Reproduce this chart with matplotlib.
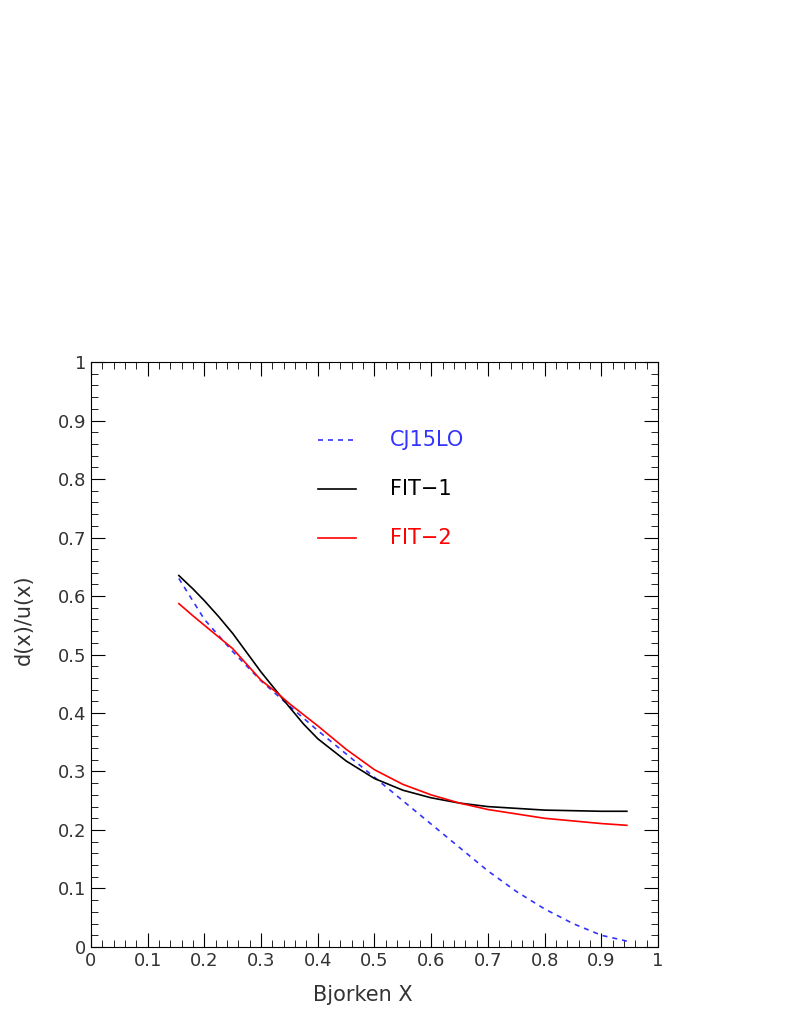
import matplotlib.pyplot as plt
from matplotlib.ticker import MultipleLocator

# --- data ---
x_cj = [0.155, 0.2, 0.25, 0.3, 0.35, 0.4, 0.45, 0.5, 0.55, 0.6, 0.65, 0.7, 0.75, 0.8, 0.85, 0.9, 0.945]
y_cj = [0.630, 0.560, 0.505, 0.455, 0.412, 0.370, 0.330, 0.290, 0.250, 0.210, 0.170, 0.130, 0.095, 0.065, 0.040, 0.020, 0.010]

x_fit = [0.155, 0.18, 0.2, 0.225, 0.25, 0.275, 0.3, 0.325, 0.35, 0.375, 0.4, 0.45, 0.5, 0.55, 0.6, 0.65, 0.7, 0.8, 0.9, 0.945]
y_fit1 = [0.635, 0.612, 0.592, 0.565, 0.536, 0.503, 0.470, 0.440, 0.410, 0.381, 0.356, 0.318, 0.288, 0.268, 0.255, 0.246, 0.240, 0.234, 0.232, 0.232]
y_fit2 = [0.587, 0.566, 0.550, 0.530, 0.510, 0.483, 0.456, 0.437, 0.416, 0.397, 0.378, 0.338, 0.303, 0.278, 0.260, 0.246, 0.235, 0.220, 0.211, 0.208]

labels = ["CJ15LO", "FIT-1", "FIT-2"]
colors = ["#3333ff", "black", "red"]
styles = [(0, (3, 3)), "-", "-"]
legend_y = [0.867, 0.783, 0.700]

fig = plt.figure(figsize=(7.89, 10.21), dpi=100)
ax = fig.add_axes([0.1153, 0.0725, 0.7187, 0.5729])

series = [(x_cj, y_cj), (x_fit, y_fit1), (x_fit, y_fit2)]
for (xs, ys), c, ls in zip(series, colors, styles):
    ax.plot(xs, ys, color=c, linestyle=ls, lw=1.2)

# legend drawn ROOT-style inside the frame
for lab, c, ls, ly in zip(labels, colors, styles, legend_y):
    ax.plot([0.40, 0.467], [ly, ly], color=c, linestyle=ls, lw=1.2)
    ax.text(0.527, ly, lab.replace("-", "\u2212"), color=c, fontsize=15, va="center")

ax.set_xlim(0, 1)
ax.set_ylim(0, 1)
ax.xaxis.set_major_locator(MultipleLocator(0.1))
ax.yaxis.set_major_locator(MultipleLocator(0.1))
ax.xaxis.set_minor_locator(MultipleLocator(0.02))
ax.yaxis.set_minor_locator(MultipleLocator(0.02))
ax.tick_params(which="both", direction="in", top=True, right=True, labelsize=13, labelcolor="#333333")
ax.tick_params(which="major", length=10)
ax.tick_params(which="minor", length=5)
ax.xaxis.set_major_formatter(plt.FuncFormatter(lambda v, p: f"{v:g}"))
ax.yaxis.set_major_formatter(plt.FuncFormatter(lambda v, p: f"{v:g}"))
ax.set_xlabel("Bjorken X", fontsize=15, color="#333333")
ax.set_ylabel("d(x)/u(x)", fontsize=15, color="#333333")
ax.xaxis.set_label_coords(0.48, -0.065)
ax.yaxis.set_label_coords(-0.1, 0.56)

fig.savefig("out.png", dpi=100)
